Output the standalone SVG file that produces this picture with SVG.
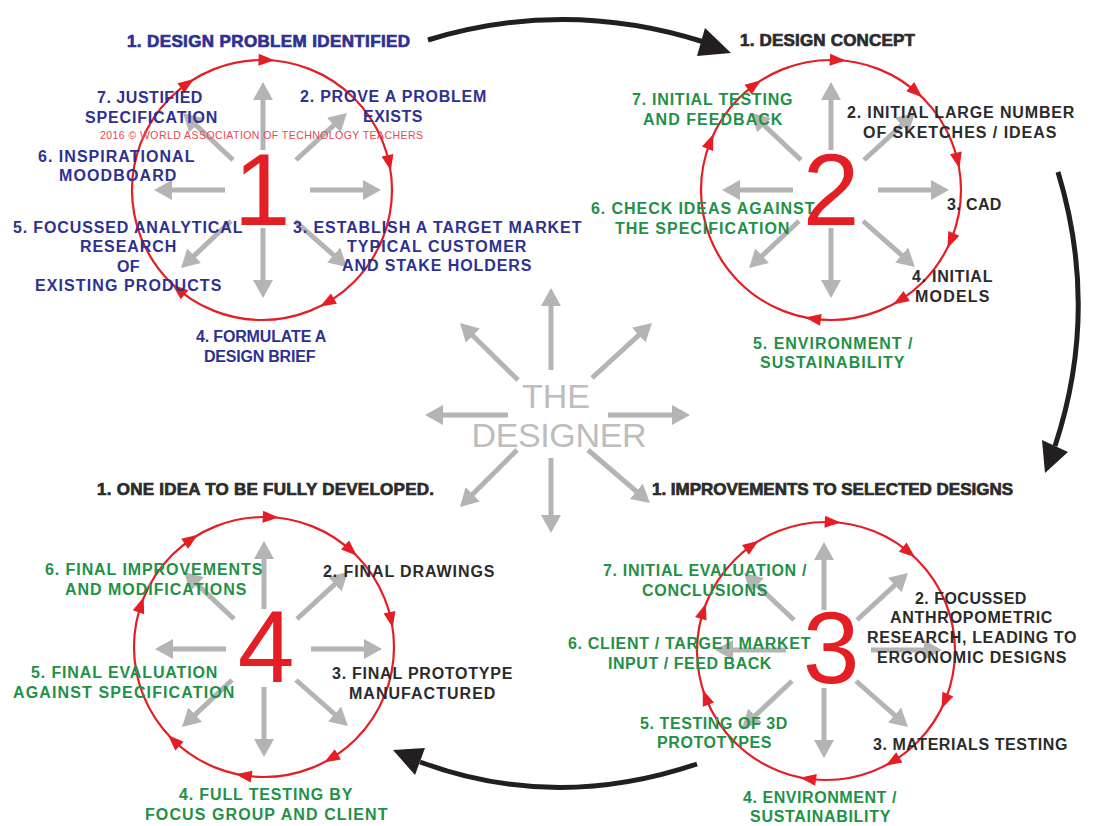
<svg xmlns="http://www.w3.org/2000/svg" xmlns:xlink="http://www.w3.org/1999/xlink" width="1096" height="826" viewBox="0 0 1096 826">
<style>
text{font-family:"Liberation Sans",Arial,sans-serif}
.l{font-weight:bold;font-size:16px;text-anchor:middle;letter-spacing:0.6px}
.h{font-weight:bold;font-size:17px;text-anchor:middle;stroke-width:0.7px}
.b{fill:#2e3192}
.h.b{stroke:#2e3192}
.g{fill:#1f9147}
.k{fill:#2b2b2b}
.h.k{stroke:#2b2b2b}
.d{font-size:102px;fill:#e31e24;text-anchor:middle}
.ring{fill:none;stroke:#e31e24;stroke-width:2.2}
.ra{fill:#e31e24}
.ga{stroke:#b4b4b4;stroke-width:5;fill:none;marker-end:url(#gh)}
.conn{fill:none;stroke:#231f20;stroke-width:5}
.ch{fill:#231f20}
.cd{font-size:34px;fill:#bdbdbd;text-anchor:middle}
.cp{font-size:10.5px;fill:#ee4650}
</style>
<defs>
<marker id="gh" markerUnits="userSpaceOnUse" markerWidth="18" markerHeight="20" refX="12" refY="10" orient="auto" viewBox="0 0 18 20">
<path d="M0,0 L18,10 L0,20 z" fill="#b4b4b4"/>
</marker>
<path id="rah" class="ra" d="M-8,-6 L8,0 L-8,6 z"/>
<g id="burst">
<path class="ga" d="M0,-40 L0,-102"/>
<path class="ga" d="M0,38 L0,102"/>
<path class="ga" d="M-38,0 L-103,0"/>
<path class="ga" d="M47,0 L112,0"/>
<path class="ga" d="M33,-30 L79.6,-72.9"/>
<path class="ga" d="M-30,-30 L-75.6,-72.9"/>
<path class="ga" d="M-32,31 L-77.6,73.9"/>
<path class="ga" d="M32,31 L79.5,73"/>
</g>
</defs>
<rect width="1096" height="826" fill="#ffffff"/>

<g id="connectors">
<path class="conn" d="M428,40 Q565,-2 704,42"/>
<polygon class="ch" points="705,28 697,56 731,53"/>
<path class="conn" d="M1058,172 Q1100,310 1055,446"/>
<polygon class="ch" points="1042,440 1068,452 1045,473"/>
<path class="conn" d="M697,764 Q555,812 420,762"/>
<polygon class="ch" points="393,750 425,748 415,775"/>
</g>

<g id="designer">
<path class="ga" d="M551,370 L551,294"/>
<path class="ga" d="M551,458 L551,527"/>
<path class="ga" d="M508,415 L431,415"/>
<path class="ga" d="M608,415 L684,415"/>
<path class="ga" d="M518,380 L464.3,327.2"/>
<path class="ga" d="M592,378 L647.6,327.1"/>
<path class="ga" d="M517,450 L464.2,502.8"/>
<path class="ga" d="M588,450 L645.4,499.1"/>
<text class="cd" x="556" y="408">THE</text>
<text class="cd" x="559" y="447" textLength="175">DESIGNER</text>
</g>

<g id="stage1">
<circle class="ring" cx="262" cy="190" r="130"/>
<use xlink:href="#rah" transform="rotate(2 262 190) translate(262 60)"/>
<use xlink:href="#rah" transform="rotate(78 262 190) translate(262 60)"/>
<use xlink:href="#rah" transform="rotate(150 262 190) translate(262 60)"/>
<use xlink:href="#rah" transform="rotate(220 262 190) translate(262 60)"/>
<use xlink:href="#rah" transform="rotate(325 262 190) translate(262 60)"/>
<use xlink:href="#burst" transform="translate(263 190)"/>
<text class="d" x="262" y="225">1</text>
<text class="h b" x="268.5" y="47" textLength="283">1. DESIGN PROBLEM IDENTIFIED</text>
<text class="l b" x="150" y="103" textLength="106">7. JUSTIFIED</text>
<text class="l b" x="151.5" y="123" textLength="133">SPECIFICATION</text>
<text class="cp" x="100" y="139" textLength="323">2016 © WORLD ASSOCIATION OF TECHNOLOGY TEACHERS</text>
<text class="l b" x="116.5" y="162" textLength="157">6. INSPIRATIONAL</text>
<text class="l b" x="118" y="181" textLength="118">MOODBOARD</text>
<text class="l b" x="128" y="233" textLength="230">5. FOCUSSED ANALYTICAL</text>
<text class="l b" x="128.5" y="252" textLength="97">RESEARCH</text>
<text class="l b" x="128.5" y="272" textLength="23">OF</text>
<text class="l b" x="128.5" y="291" textLength="187">EXISTING PRODUCTS</text>
<text class="l b" x="393.5" y="102" textLength="187">2. PROVE A PROBLEM</text>
<text class="l b" x="393" y="122" textLength="60">EXISTS</text>
<text class="l b" x="437.5" y="233" textLength="289">3. ESTABLISH A TARGET MARKET</text>
<text class="l b" x="437" y="252" textLength="180">TYPICAL CUSTOMER</text>
<text class="l b" x="437" y="271" textLength="190">AND STAKE HOLDERS</text>
<text class="l b" x="261.5" y="342" textLength="131">4. FORMULATE A</text>
<text class="l b" x="260" y="362" textLength="112">DESIGN BRIEF</text>
</g>

<g id="stage2">
<circle class="ring" cx="831" cy="190" r="130"/>
<use xlink:href="#rah" transform="rotate(3 831 190) translate(831 60)"/>
<use xlink:href="#rah" transform="rotate(41 831 190) translate(831 60)"/>
<use xlink:href="#rah" transform="rotate(77 831 190) translate(831 60)"/>
<use xlink:href="#rah" transform="rotate(113 831 190) translate(831 60)"/>
<use xlink:href="#rah" transform="rotate(148 831 190) translate(831 60)"/>
<use xlink:href="#rah" transform="rotate(188 831 190) translate(831 60)"/>
<use xlink:href="#rah" transform="rotate(292 831 190) translate(831 60)"/>
<use xlink:href="#rah" transform="rotate(324 831 190) translate(831 60)"/>
<use xlink:href="#burst" transform="translate(831 190)"/>
<text class="d" x="831" y="225">2</text>
<text class="h k" x="827.5" y="46" textLength="175">1. DESIGN CONCEPT</text>
<text class="l g" x="712.5" y="105" textLength="161">7. INITIAL TESTING</text>
<text class="l g" x="713" y="125" textLength="140">AND FEEDBACK</text>
<text class="l k" x="961" y="118" textLength="228">2. INITIAL LARGE NUMBER</text>
<text class="l k" x="960" y="138" textLength="194">OF SKETCHES / IDEAS</text>
<text class="l k" x="974.5" y="210" textLength="55">3. CAD</text>
<text class="l g" x="703" y="214" textLength="224">6. CHECK IDEAS AGAINST</text>
<text class="l g" x="702.5" y="234" textLength="175">THE SPECIFICATION</text>
<text class="l k" x="952.5" y="282" textLength="81">4. INITIAL</text>
<text class="l k" x="952.5" y="302" textLength="75">MODELS</text>
<text class="l g" x="833" y="349" textLength="160">5. ENVIRONMENT /</text>
<text class="l g" x="832.5" y="368" textLength="145">SUSTAINABILITY</text>
</g>

<g id="stage3">
<circle class="ring" cx="826" cy="651" r="129"/>
<use xlink:href="#rah" transform="rotate(3 826 651) translate(826 522)"/>
<use xlink:href="#rah" transform="rotate(40 826 651) translate(826 522)"/>
<use xlink:href="#rah" transform="rotate(113 826 651) translate(826 522)"/>
<use xlink:href="#rah" transform="rotate(149 826 651) translate(826 522)"/>
<use xlink:href="#rah" transform="rotate(188 826 651) translate(826 522)"/>
<use xlink:href="#rah" transform="rotate(249 826 651) translate(826 522)"/>
<use xlink:href="#rah" transform="rotate(288 826 651) translate(826 522)"/>
<use xlink:href="#rah" transform="rotate(325 826 651) translate(826 522)"/>
<use xlink:href="#burst" transform="translate(824 650)"/>
<text class="d" x="831" y="683">3</text>
<text class="h k" x="832.5" y="495" textLength="361">1. IMPROVEMENTS TO SELECTED DESIGNS</text>
<text class="l g" x="705" y="576" textLength="204">7. INITIAL EVALUATION /</text>
<text class="l g" x="705" y="596" textLength="126">CONCLUSIONS</text>
<text class="l k" x="971" y="604" textLength="112">2. FOCUSSED</text>
<text class="l k" x="971.5" y="623" textLength="163">ANTHROPOMETRIC</text>
<text class="l k" x="972" y="643" textLength="210">RESEARCH, LEADING TO</text>
<text class="l k" x="972" y="663" textLength="190">ERGONOMIC DESIGNS</text>
<text class="l g" x="689.5" y="649" textLength="243">6. CLIENT / TARGET MARKET</text>
<text class="l g" x="690" y="669" textLength="164">INPUT / FEED BACK</text>
<text class="l g" x="714" y="729" textLength="148">5. TESTING OF 3D</text>
<text class="l g" x="714.5" y="748" textLength="115">PROTOTYPES</text>
<text class="l k" x="970.5" y="750" textLength="195">3. MATERIALS TESTING</text>
<text class="l g" x="820" y="803" textLength="154">4. ENVIRONMENT /</text>
<text class="l g" x="820.5" y="822" textLength="141">SUSTAINABILITY</text>
</g>

<g id="stage4">
<circle class="ring" cx="264" cy="647" r="130"/>
<use xlink:href="#rah" transform="rotate(3 264 647) translate(264 517)"/>
<use xlink:href="#rah" transform="rotate(42 264 647) translate(264 517)"/>
<use xlink:href="#rah" transform="rotate(78 264 647) translate(264 517)"/>
<use xlink:href="#rah" transform="rotate(149 264 647) translate(264 517)"/>
<use xlink:href="#rah" transform="rotate(189 264 647) translate(264 517)"/>
<use xlink:href="#rah" transform="rotate(224 264 647) translate(264 517)"/>
<use xlink:href="#rah" transform="rotate(289 264 647) translate(264 517)"/>
<use xlink:href="#rah" transform="rotate(326 264 647) translate(264 517)"/>
<use xlink:href="#burst" transform="translate(264 649)"/>
<text class="d" x="266" y="682">4</text>
<text class="h k" x="265.5" y="495" textLength="337">1. ONE IDEA TO BE FULLY DEVELOPED.</text>
<text class="l g" x="154" y="575" textLength="218">6. FINAL IMPROVEMENTS</text>
<text class="l g" x="156" y="595" textLength="182">AND MODIFICATIONS</text>
<text class="l k" x="409" y="577" textLength="172">2. FINAL DRAWINGS</text>
<text class="l g" x="124.5" y="678" textLength="187">5. FINAL EVALUATION</text>
<text class="l g" x="124" y="698" textLength="222">AGAINST SPECIFICATION</text>
<text class="l k" x="422.5" y="679" textLength="181">3. FINAL PROTOTYPE</text>
<text class="l k" x="422.5" y="699" textLength="147">MANUFACTURED</text>
<text class="l g" x="266" y="800" textLength="174">4. FULL TESTING BY</text>
<text class="l g" x="266.5" y="820" textLength="243">FOCUS GROUP AND CLIENT</text>
</g>
</svg>
